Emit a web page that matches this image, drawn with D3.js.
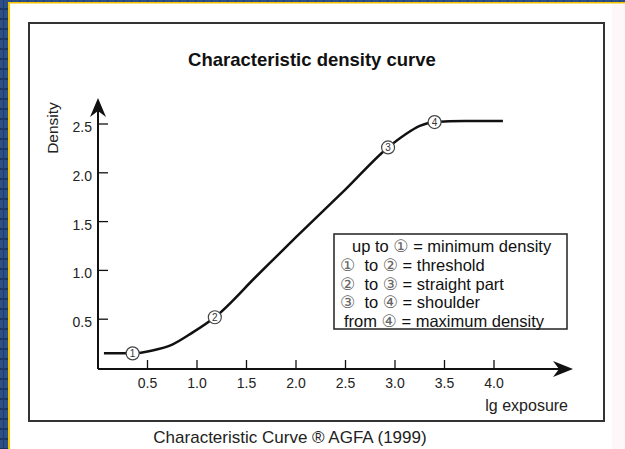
<!DOCTYPE html>
<html>
<head>
<meta charset="utf-8">
<script src="https://cdn.jsdelivr.net/npm/d3@7"></script>
<style>
  html, body { margin: 0; padding: 0; background: #fff; }
  svg { display: block; }
</style>
</head>
<body>
<script>
const width = 625;
const height = 449;

// curve: lg exposure vs density
const lgExposure = [0.06, 0.35, 0.55, 0.75, 0.95, 1.18, 1.6, 2.0, 2.5, 2.93, 3.1, 3.25, 3.40, 3.7, 4.09];
const density    = [0.15, 0.15, 0.18, 0.24, 0.36, 0.52, 0.94, 1.34, 1.83, 2.26, 2.39, 2.48, 2.52, 2.53, 2.53];

// circled markers on the curve
const markerLabels = ['1', '2', '3', '4'];
const markerX = [0.35, 1.18, 2.93, 3.40];
const markerY = [0.15, 0.52, 2.26, 2.52];

const xTicks = [0.5, 1.0, 1.5, 2.0, 2.5, 3.0, 3.5, 4.0];
const yTicks = [0.5, 1.0, 1.5, 2.0, 2.5];

const legendRows = [
  ['up to ', '\u2460', ' = minimum density'],
  ['\u2460', '  to ', '\u2461', ' = threshold'],
  ['\u2461', '  to ', '\u2462', ' = straight part'],
  ['\u2462', '  to ', '\u2463', ' = shoulder'],
  ['from ', '\u2463', ' = maximum density']
];

const svg = d3.select('body').append('svg')
  .attr('width', width)
  .attr('height', height);

// page frame: blue strip left/top, yellow rule, pinkish right edge
const defs = svg.append('defs');
const pat = defs.append('pattern')
  .attr('id', 'grid')
  .attr('width', 8).attr('height', 10)
  .attr('patternUnits', 'userSpaceOnUse');
pat.append('rect').attr('width', 8).attr('height', 10).attr('fill', '#2c4f86');
pat.append('rect').attr('x', 0).attr('y', 8).attr('width', 8).attr('height', 2).attr('fill', '#1a3463');
pat.append('rect').attr('x', 3).attr('y', 0).attr('width', 1).attr('height', 10).attr('fill', '#1f3b6d');

svg.append('rect').attr('x', 612).attr('y', 0).attr('width', 13).attr('height', height).attr('fill', '#fdf7fa');
svg.append('rect').attr('x', 0).attr('y', 0).attr('width', width).attr('height', 2).attr('fill', 'url(#grid)');
svg.append('rect').attr('x', 0).attr('y', 0).attr('width', 8).attr('height', height).attr('fill', 'url(#grid)');
svg.append('rect').attr('x', 8).attr('y', 2).attr('width', width - 8).attr('height', 1.5).attr('fill', '#f2c500');
svg.append('rect').attr('x', 8).attr('y', 2).attr('width', 2).attr('height', height).attr('fill', '#f2c500');

// outer box
svg.append('rect')
  .attr('x', 29).attr('y', 23)
  .attr('width', 575).attr('height', 398)
  .attr('fill', '#fff')
  .attr('stroke', '#333')
  .attr('stroke-width', 2);

const x = d3.scaleLinear().domain([0, 4]).range([98, 494]);
const y = d3.scaleLinear().domain([0, 2.5]).range([368, 124]);

const axisColor = '#111';
const font = '"Liberation Sans", Arial, sans-serif';

// title
svg.append('text')
  .attr('x', 312).attr('y', 66)
  .attr('text-anchor', 'middle')
  .attr('font-family', font)
  .attr('font-weight', 'bold')
  .attr('font-size', 18.5)
  .attr('fill', '#111')
  .text('Characteristic density curve');

// x axis
const xAxisY = 369;
svg.append('line')
  .attr('x1', 98).attr('x2', 566)
  .attr('y1', xAxisY).attr('y2', xAxisY)
  .attr('stroke', axisColor).attr('stroke-width', 2);
svg.append('path')
  .attr('d', `M573,${xAxisY} L553,${xAxisY - 8} L559,${xAxisY} L553,${xAxisY + 8} Z`)
  .attr('fill', axisColor);

const xg = svg.append('g');
xg.selectAll('line').data(xTicks).join('line')
  .attr('x1', d => x(d)).attr('x2', d => x(d))
  .attr('y1', xAxisY).attr('y2', xAxisY - 9)
  .attr('stroke', axisColor).attr('stroke-width', 1.3);
xg.selectAll('text').data(xTicks).join('text')
  .attr('x', d => x(d)).attr('y', xAxisY + 19)
  .attr('text-anchor', 'middle')
  .attr('font-family', font)
  .attr('font-size', 14)
  .attr('fill', '#222')
  .text(d3.format('.1f'));

// y axis
svg.append('line')
  .attr('x1', 98).attr('x2', 98)
  .attr('y1', xAxisY).attr('y2', 106)
  .attr('stroke', axisColor).attr('stroke-width', 2);
svg.append('path')
  .attr('d', 'M98,98 L90,117 L98,111 L106,117 Z')
  .attr('fill', axisColor);

const yg = svg.append('g');
yg.selectAll('line').data(yTicks).join('line')
  .attr('x1', 98).attr('x2', 108)
  .attr('y1', d => y(d)).attr('y2', d => y(d))
  .attr('stroke', axisColor).attr('stroke-width', 1.3);
yg.selectAll('text').data(yTicks).join('text')
  .attr('x', 92).attr('y', d => y(d) + 8)
  .attr('text-anchor', 'end')
  .attr('font-family', font)
  .attr('font-size', 14)
  .attr('fill', '#222')
  .text(d3.format('.1f'));

// axis titles
svg.append('text')
  .attr('transform', 'translate(58,128) rotate(-90)')
  .attr('text-anchor', 'middle')
  .attr('font-family', font)
  .attr('font-size', 15.5)
  .attr('fill', '#222')
  .text('Density');

svg.append('text')
  .attr('x', 568).attr('y', 411)
  .attr('text-anchor', 'end')
  .attr('font-family', font)
  .attr('font-size', 16)
  .attr('fill', '#222')
  .text('lg exposure');

// curve
const pts = lgExposure.map((v, i) => [v, density[i]]);
const line = d3.line()
  .x(d => x(d[0]))
  .y(d => y(d[1]))
  .curve(d3.curveMonotoneX);
svg.append('path')
  .datum(pts)
  .attr('d', line)
  .attr('fill', 'none')
  .attr('stroke', '#111')
  .attr('stroke-width', 2.5);

// markers
const mk = svg.append('g').selectAll('g').data(markerLabels).join('g')
  .attr('transform', (d, i) => `translate(${x(markerX[i])},${y(markerY[i])})`);
mk.append('circle')
  .attr('r', 6.5)
  .attr('fill', '#fff')
  .attr('stroke', '#444')
  .attr('stroke-width', 1.2);
mk.append('text')
  .attr('y', 3.5)
  .attr('text-anchor', 'middle')
  .attr('font-family', font)
  .attr('font-size', 10)
  .attr('fill', '#333')
  .text(d => d);

// legend box
svg.append('rect')
  .attr('x', 334).attr('y', 234)
  .attr('width', 233).attr('height', 95)
  .attr('fill', '#fff')
  .attr('stroke', '#222')
  .attr('stroke-width', 1.5);

const isCircled = d => /[\u2460-\u2463]/.test(d);
const indent = [12, 0, 0, 0, 4];
const lg = svg.append('g').selectAll('text').data(legendRows).join('text')
  .attr('x', (d, i) => 340 + indent[i])
  .attr('y', (d, i) => 252 + i * 18.75)
  .attr('font-family', font)
  .attr('font-size', 16.5)
  .attr('fill', '#111')
  .attr('xml:space', 'preserve')
  .style('white-space', 'pre');
lg.selectAll('tspan').data(d => d).join('tspan')
  .attr('fill', d => isCircled(d) ? '#666' : '#111')
  .attr('font-family', d => isCircled(d) ? '"DejaVu Sans", "Noto Sans CJK JP", sans-serif' : font)
  .attr('font-size', d => isCircled(d) ? 17 : 16.5)
  .text(d => d);

// caption
svg.append('text')
  .attr('x', 290).attr('y', 443)
  .attr('text-anchor', 'middle')
  .attr('font-family', font)
  .attr('font-size', 17)
  .attr('fill', '#222')
  .text('Characteristic Curve \u00AE AGFA (1999)');
</script>
</body>
</html>
